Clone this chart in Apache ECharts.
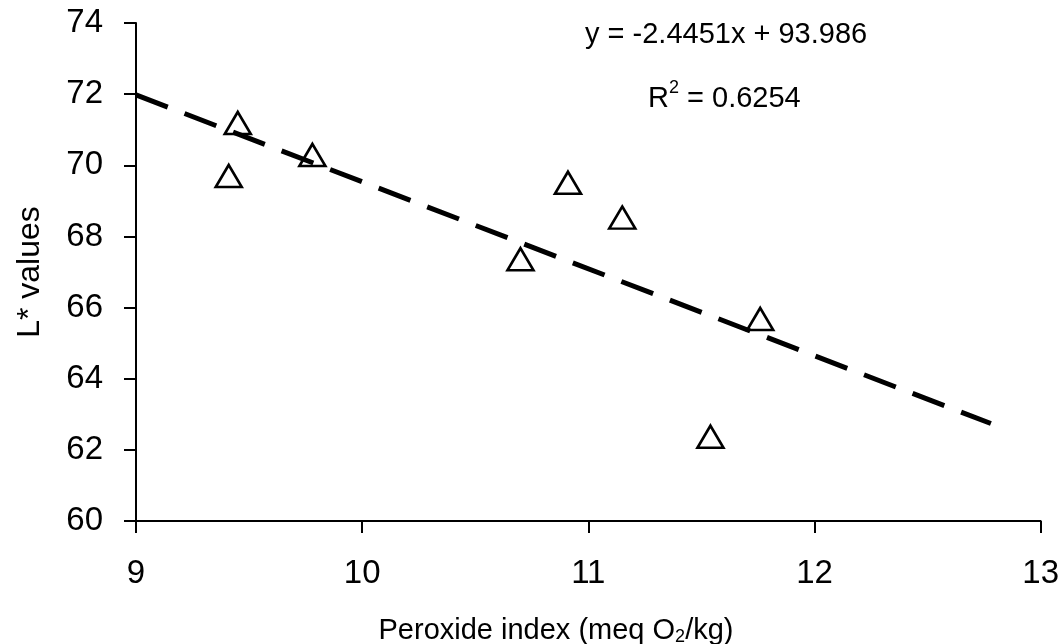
<!DOCTYPE html>
<html>
<head>
<meta charset="utf-8">
<script src="https://cdn.jsdelivr.net/npm/echarts@6/dist/echarts.min.js"></script>
<style>html,body{margin:0;padding:0;background:#fff}#c{width:1062px;height:644px}</style>
</head>
<body>
<div id="c"></div>
<script>
// Data
const peroxide = [9.45, 9.41, 9.78, 10.70, 10.91, 11.15, 11.76, 11.54];
const lValues  = [71.19, 69.70, 70.29, 67.36, 69.51, 68.53, 65.68, 62.37];
const trendX = [9.0, 12.78];
const trendY = [71.98, 62.74];
const xTicks = [9, 10, 11, 12, 13];
const yTicks = [60, 62, 64, 66, 68, 70, 72, 74];
const equationText = 'y = -2.4451x + 93.986';
const r2Value = '0.6254';

const FONT = '"Liberation Sans", Arial, sans-serif';
const chart = echarts.init(document.getElementById('c'), null, {renderer: 'canvas'});
chart.setOption({
  animation: false,
  backgroundColor: '#ffffff',
  grid: {left: 136, right: 21, top: 23, bottom: 123, containLabel: false},
  xAxis: {
    type: 'value', min: xTicks[0], max: xTicks[xTicks.length - 1], interval: 1,
    axisLine: {show: true, lineStyle: {color: '#000', width: 2}},
    axisTick: {show: true, inside: false, length: 12, lineStyle: {color: '#000', width: 2}},
    axisLabel: {color: '#000', fontSize: 33, fontFamily: FONT, margin: 36},
    splitLine: {show: false}
  },
  yAxis: {
    type: 'value', min: yTicks[0], max: yTicks[yTicks.length - 1], interval: 2,
    axisLine: {show: true, lineStyle: {color: '#000', width: 2}},
    axisTick: {show: true, inside: false, length: 12, lineStyle: {color: '#000', width: 2}},
    axisLabel: {color: '#000', fontSize: 33, fontFamily: FONT, margin: 33},
    splitLine: {show: false}
  },
  series: [
    {
      type: 'line',
      data: trendX.map((x, i) => [x, trendY[i]]),
      showSymbol: false, symbol: 'none',
      lineStyle: {color: '#000', width: 5, type: [34, 18]},
      z: 2
    },
    {
      type: 'scatter',
      data: peroxide.map((x, i) => [x, lValues[i]]),
      symbol: 'triangle', symbolSize: [26, 22],
      itemStyle: {color: 'rgba(255,255,255,0)', borderColor: '#000', borderWidth: 2.6, opacity: 1},
      z: 3
    }
  ],
  graphic: [
    {type: 'text', x: 585, y: 35,
     style: {text: equationText, fill: '#000', font: '29px ' + FONT, align: 'left', verticalAlign: 'middle'}},
    {type: 'text', x: 648, y: 96,
     style: {text: '{n|R}{s|2}{n| = ' + r2Value + '}', align: 'left', verticalAlign: 'middle',
       rich: {n: {fontSize: 29, fontFamily: FONT, color: '#000', verticalAlign: 'bottom', lineHeight: 34},
              s: {fontSize: 18, fontFamily: FONT, color: '#000', verticalAlign: 'top', lineHeight: 34, padding: [0, 0, 14, 0]}}}},
    {type: 'text', x: 30, y: 272, rotation: Math.PI / 2,
     style: {text: 'L* values', fill: '#000', font: '32px ' + FONT, align: 'center', verticalAlign: 'middle'}},
    {type: 'text', x: 556, y: 631,
     style: {text: '{n|Peroxide index (meq O}{s|2}{n|/kg)}', align: 'center', verticalAlign: 'middle',
       rich: {n: {fontSize: 29, fontFamily: FONT, color: '#000'},
              s: {fontSize: 18, fontFamily: FONT, color: '#000', padding: [12, 0, 0, 0]}}}}
  ]
});
</script>
</body>
</html>
